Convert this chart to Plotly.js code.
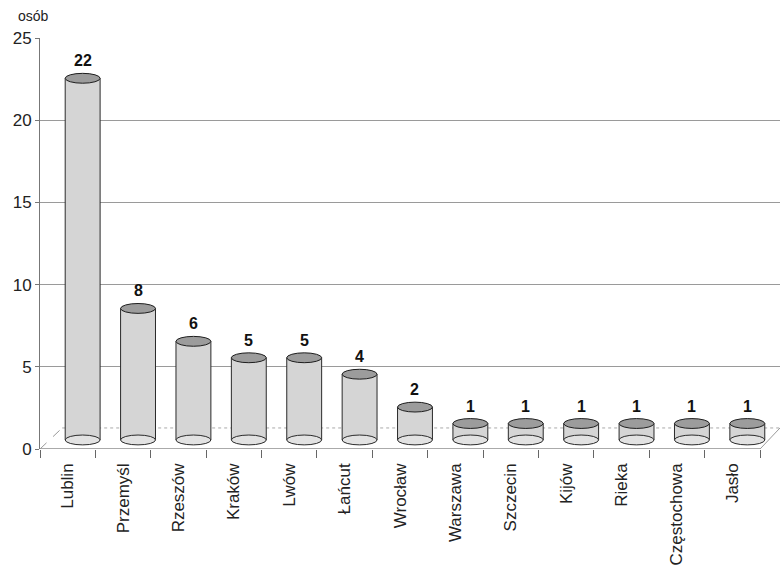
<!DOCTYPE html>
<html>
<head>
<meta charset="utf-8">
<script src="https://cdn.plot.ly/plotly-3.0.1.min.js"></script>
<style>html,body{margin:0;padding:0;background:#fff;}</style>
</head>
<body>
<div id="chart" style="width:780px;height:577px;"></div>
<script>
const cities = ["Lublin","Przemyśl","Rzeszów","Kraków","Lwów","Łańcut","Wrocław","Warszawa","Szczecin","Kijów","Rieka","Częstochowa","Jasło"];
const persons = [22, 8, 6, 5, 5, 4, 2, 1, 1, 1, 1, 1, 1];
const yTicks = [0, 5, 10, 15, 20, 25];
const yUnit = "osób";

// styling constants (3D look)
const BASE = 0.55;     // cylinder floor offset (depth)
const SHIFT = 0.27;    // cylinder offset into depth
const W = 0.63;        // cylinder width
const EH = 0.3;        // ellipse half-height in y units
const FONT = "Liberation Sans, Arial, sans-serif";

const bar = {
  type: "bar",
  x: cities,
  y: persons,
  base: BASE,
  width: W,
  offset: SHIFT - W / 2,
  marker: {color: "#d5d5d5", line: {color: "#2a2a2a", width: 1}},
  hoverinfo: "x+y",
  showlegend: false
};

const shapes = [];
persons.forEach((v, i) => {
  const cx = i + SHIFT;
  shapes.push({type: "circle", xref: "x", yref: "y",
    x0: cx - W / 2, x1: cx + W / 2, y0: BASE - EH, y1: BASE + EH,
    fillcolor: "#e2e2e2", line: {color: "#2a2a2a", width: 1}});
  shapes.push({type: "circle", xref: "x", yref: "y",
    x0: cx - W / 2, x1: cx + W / 2, y0: v + BASE - EH, y1: v + BASE + EH,
    fillcolor: "#9c9c9c", line: {color: "#1e1e1e", width: 1}});
});
shapes.push({type: "line", xref: "x", yref: "y", x0: -0.5, x1: cities.length - 0.5, y0: 0, y1: 0,
  line: {color: "#555", width: 1}, layer: "below"});
shapes.push({type: "line", xref: "x", yref: "y", x0: -0.1, x1: cities.length - 0.14, y0: 1.28, y1: 1.28,
  line: {color: "#aaa", width: 1, dash: "dot"}, layer: "below"});
shapes.push({type: "line", xref: "x", yref: "y", x0: -0.5, x1: -0.1, y0: 0, y1: 1.28,
  line: {color: "#999", width: 1, dash: "dash"}, layer: "below"});
shapes.push({type: "line", xref: "x", yref: "y", x0: cities.length - 0.5, x1: cities.length - 0.14, y0: 0, y1: 1.28,
  line: {color: "#999", width: 1}, layer: "below"});

const annotations = persons.map((v, i) => ({
  xref: "x", yref: "y", x: i + SHIFT, y: v + BASE,
  text: String(v), showarrow: false, yanchor: "bottom", yshift: 7,
  font: {family: FONT, size: 16, color: "#111", weight: "bold"}
}));
annotations.push({
  xref: "paper", yref: "paper", x: 0, y: 1, xanchor: "left", yanchor: "bottom",
  xshift: -24, yshift: 12, text: yUnit, showarrow: false,
  font: {family: FONT, size: 14, color: "#222"}
});

const layout = {
  width: 780, height: 577,
  margin: {l: 40, r: 0, t: 38, b: 128},
  paper_bgcolor: "#fff", plot_bgcolor: "#fff",
  font: {family: FONT, color: "#222"},
  showlegend: false,
  xaxis: {
    type: "category",
    range: [-0.5, cities.length - 0.14],
    tickangle: -90,
    tickfont: {family: FONT, size: 17, color: "#222"},
    showline: false,
    showgrid: false,
    ticks: "outside", tickson: "boundaries", ticklen: 8, tickcolor: "#666",
    ticklabelstandoff: 10,
    zeroline: false, fixedrange: true
  },
  yaxis: {
    range: [0, 25],
    tickvals: yTicks,
    tickfont: {family: FONT, size: 17, color: "#222"},
    showline: true, linecolor: "#777", linewidth: 1,
    ticks: "outside", ticklen: 4, tickcolor: "#777",
    showgrid: true, gridcolor: "#9a9a9a", gridwidth: 1,
    zeroline: false, fixedrange: true
  },
  shapes: shapes,
  annotations: annotations
};

Plotly.newPlot("chart", [bar], layout, {displayModeBar: false, staticPlot: true});
</script>
</body>
</html>
